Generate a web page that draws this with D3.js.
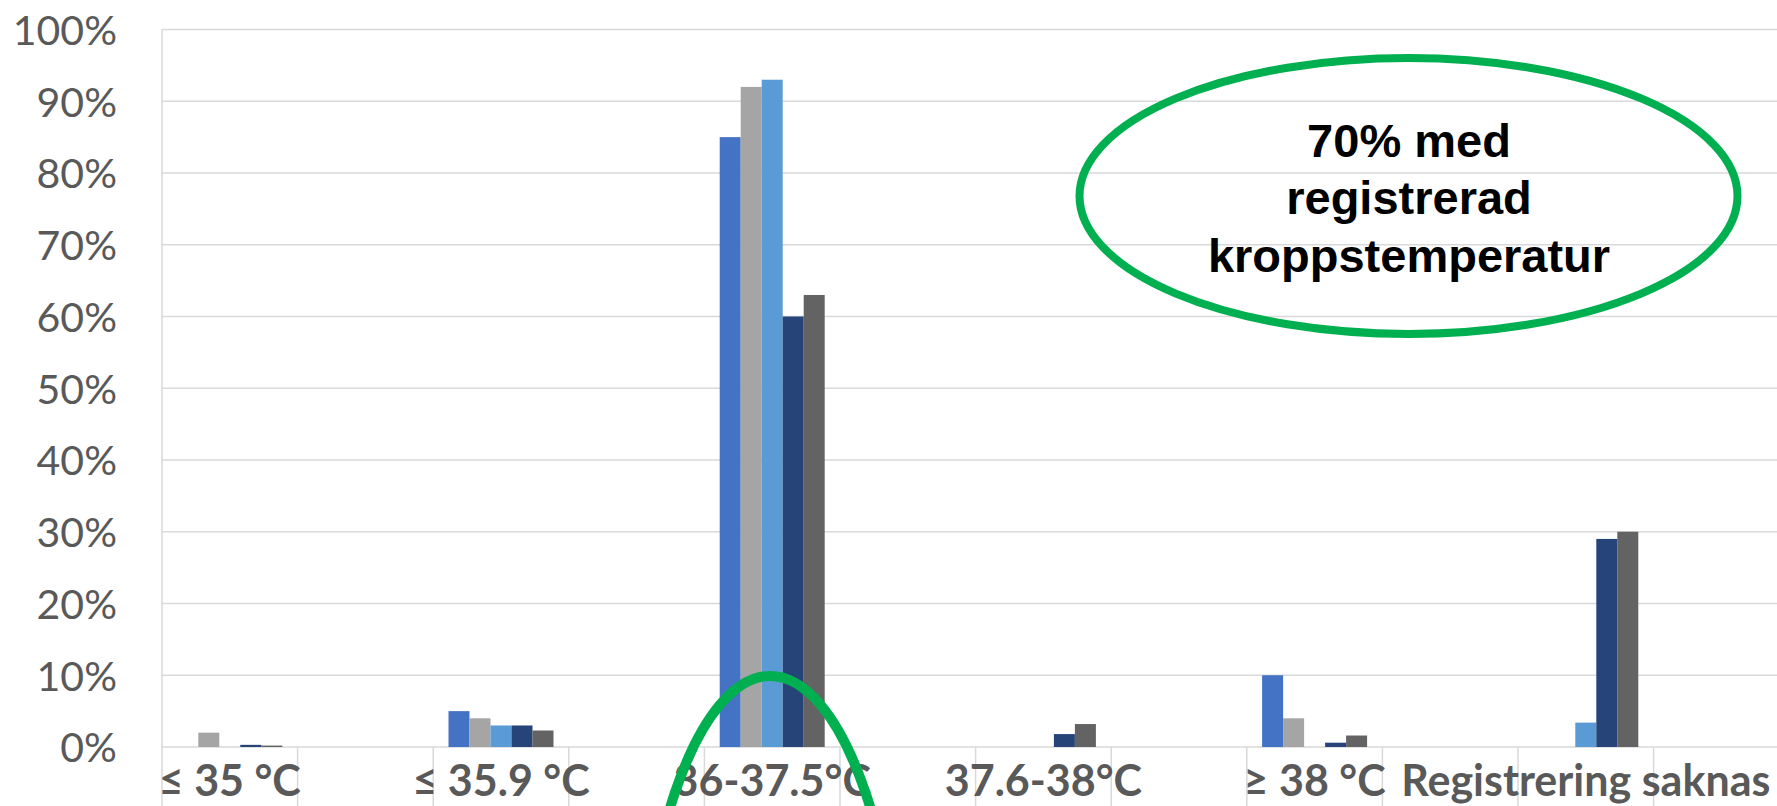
<!DOCTYPE html>
<html>
<head>
<meta charset="utf-8">
<script src="https://cdn.jsdelivr.net/npm/d3@7"></script>
<style>
  html, body { margin: 0; padding: 0; background: #fff; overflow: hidden; }
  svg { display: block; }
</style>
</head>
<body>
<svg id="chart" width="1777" height="806"></svg>
<script>
// ---- data ----
const categories = ["≤ 35 °C", "≤ 35.9 °C", "36-37.5°C", "37.6-38°C", "≥ 38 °C", "Registrering saknas"];
const seriesNames = ["Serie 1", "Serie 2", "Serie 3", "Serie 4", "Serie 5"];
const series1 = [0, 5, 85, 0, 10, 0];
const series2 = [2, 4, 92, 0, 4, 0];
const series3 = [0, 3, 93, 0, 0, 3.4];
const series4 = [0.3, 3, 60, 1.8, 0.6, 29];
const series5 = [0.2, 2.3, 63, 3.2, 1.6, 30];
const yTicks = [0, 10, 20, 30, 40, 50, 60, 70, 80, 90, 100];
const noteLines = ["70% med", "registrerad", "kroppstemperatur"];
const colors = ["#4472C4", "#A5A5A5", "#5B9BD5", "#264478", "#636363"];

const seriesValues = [series1, series2, series3, series4, series5];

// ---- layout ----
const W = 1777, H = 806;
const plotLeft = 162, plotTop = 29.5, plotBottom = 747;
const step = 135.6;
// each category is followed by an empty slot
const slots = categories.flatMap((c, i) => [c, "__gap" + i]);
const plotRight = plotLeft + slots.length * step;

const svg = d3.select("#chart");

const x = d3.scaleBand().domain(slots).range([plotLeft, plotRight]).paddingInner(0).paddingOuter(0);
const groupPad = (step - 105) / 2;
const x1 = d3.scaleBand().domain(seriesNames).range([groupPad, x.bandwidth() - groupPad]).padding(0);
const y = d3.scaleLinear().domain([0, 100]).range([plotBottom, plotTop]);

// gridlines
svg.append("g").selectAll("line").data(yTicks).join("line")
  .attr("x1", plotLeft).attr("x2", plotRight)
  .attr("y1", d => y(d)).attr("y2", d => y(d))
  .attr("stroke", "#d9d9d9").attr("stroke-width", 1.5);

// vertical separators (category ticks), extending through label area
const seps = slots.map(s => x(s)).concat([plotRight]);
svg.append("g").selectAll("line").data(seps).join("line")
  .attr("x1", d => d).attr("x2", d => d)
  .attr("y1", (d, i) => i === 0 ? plotTop : plotBottom).attr("y2", H + 10)
  .attr("stroke", "#d9d9d9").attr("stroke-width", 1.5);

// bars
const barData = [];
categories.forEach((c, ci) => {
  seriesNames.forEach((s, si) => {
    barData.push({ cat: c, series: s, value: seriesValues[si][ci], color: colors[si] });
  });
});
svg.append("g").selectAll("rect").data(barData).join("rect")
  .attr("x", d => x(d.cat) + x1(d.series))
  .attr("width", x1.bandwidth())
  .attr("y", d => y(d.value))
  .attr("height", d => y(0) - y(d.value))
  .attr("fill", d => d.color);

// y axis labels
const yAxis = d3.axisLeft(y).tickValues(yTicks).tickFormat(d => d + "%").tickSize(0).tickPadding(0);
const gy = svg.append("g").attr("transform", `translate(117,0)`).call(yAxis);
gy.select(".domain").remove();
gy.selectAll("text")
  .attr("font-family", "Lato, 'Open Sans', sans-serif")
  .attr("font-size", 41)
  .attr("fill", "#595959")
  .attr("dy", "0.36em");

// x axis labels
const xAxis = d3.axisBottom(x).tickValues(categories).tickSize(0).tickPadding(0);
const gx = svg.append("g").attr("transform", `translate(0,796)`).call(xAxis);
gx.select(".domain").remove();
gx.selectAll("text")
  .attr("font-family", "Lato, 'Open Sans', sans-serif")
  .attr("font-weight", "bold")
  .attr("font-size", 43)
  .attr("fill", "#595959")
  .attr("dy", 0)
  .attr("y", 0);

// annotation ellipse (top right)
svg.append("ellipse")
  .attr("cx", 1408.5).attr("cy", 196).attr("rx", 329).attr("ry", 138)
  .attr("fill", "none").attr("stroke", "#00B050").attr("stroke-width", 8);

svg.append("g").selectAll("text").data(noteLines).join("text")
  .attr("x", 1409)
  .attr("y", (d, i) => 157 + i * 57.3)
  .attr("text-anchor", "middle")
  .attr("font-family", "'Liberation Sans', Arial, sans-serif")
  .attr("font-weight", "bold")
  .attr("font-size", 47)
  .attr("fill", "#000")
  .text(d => d);

// highlight ellipse around main category
svg.append("ellipse")
  .attr("cx", x(categories[2]) + x.bandwidth() / 2 - 2).attr("cy", 676 + 400).attr("rx", 135).attr("ry", 400)
  .attr("fill", "none").attr("stroke", "#00B050").attr("stroke-width", 10);
</script>
</body>
</html>
